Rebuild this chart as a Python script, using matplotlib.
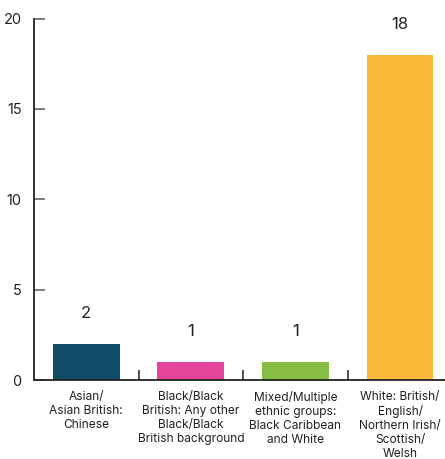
import matplotlib
matplotlib.use('Agg')
import matplotlib.pyplot as plt
from matplotlib.ticker import FixedLocator

# 数据
categories = [
    'Asian/\nAsian British:\nChinese',
    'Black/Black\nBritish: Any other\nBlack/Black\nBritish background',
    'Mixed/Multiple\nethnic groups:\nBlack Caribbean\nand White',
    'White: British/\nEnglish/\nNorthern Irish/\nScottish/\nWelsh',
]
counts = [2, 1, 1, 18]
colors = ['#0F4C67', '#E5449B', '#86BE42', '#F8B93B']
y_ticks = [0, 5, 10, 15, 20]

plt.rcParams['font.family'] = ['Inter', 'DejaVu Sans']

fig = plt.figure(figsize=(4.45, 4.59), dpi=100)
ax = fig.add_axes([34 / 445, 79 / 459, 1 - 34 / 445, 361.5 / 459])

x = list(range(len(categories)))
ax.bar(x, counts, width=0.64, color=colors, zorder=2)

for xi, v in zip(x, counts):
    ax.annotate(str(v), (xi, v), xytext=(0, 22), textcoords='offset points',
                ha='center', va='center', fontsize=12, color='#222222')

ax.set_xlim(-0.5, 3.43)
ax.set_ylim(0, 20)

# y 轴刻度朝内
ax.set_yticks(y_ticks)
ax.tick_params(axis='y', direction='in', length=8, width=1.2, color='#666666',
               labelsize=10.5, labelcolor='#222222', pad=9)

# x 轴：类别标签居中，刻度线画在类别分界处
ax.set_xticks(x)
ax.set_xticklabels(categories, fontsize=8.6, color='#222222', linespacing=1.22)
ax.tick_params(axis='x', which='major', length=0, pad=8)
ax.xaxis.set_minor_locator(FixedLocator([0.5, 1.5, 2.5]))
ax.tick_params(axis='x', which='minor', direction='in', length=7, width=1.2,
               color='#333333')

for side in ['top', 'right']:
    ax.spines[side].set_visible(False)
for side in ['left', 'bottom']:
    ax.spines[side].set_color('#222222')
    ax.spines[side].set_linewidth(1.3)

fig.savefig('out.png', dpi=100)
